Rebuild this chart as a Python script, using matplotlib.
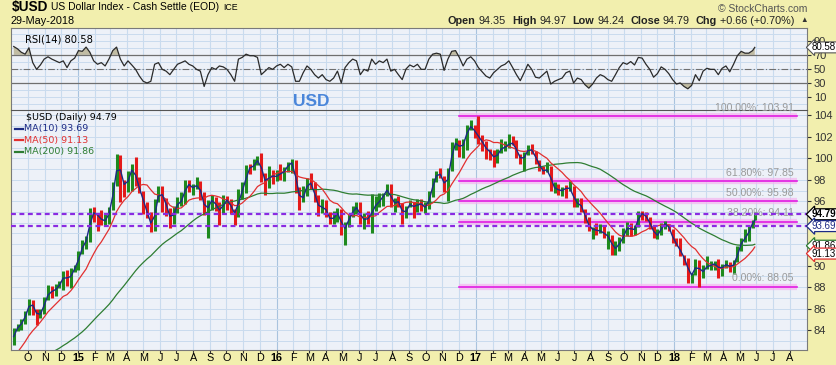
import pandas as pd
import matplotlib
matplotlib.use('Agg')
import matplotlib.pyplot as plt
from matplotlib.ticker import MultipleLocator

plt.rcParams['font.family'] = ['Liberation Sans', 'DejaVu Sans']

# weekly closes used only to warm up the moving averages (Feb-Aug 2014)
pre_closes = [80.7, 80.1, 80.2, 79.7, 79.7, 79.4, 80.2, 80.2, 80.4, 79.4,
              79.9, 79.8, 79.5, 79.9, 80.0, 80.4, 80.4, 80.6, 80.6, 80.4,
              80.1, 80.3, 80.1, 80.6, 81.0, 81.4, 81.4, 81.5, 82.3, 82.76]

# weekly bars, 5-Sep-2014 .. 25-May-2018, plus 29-May-2018
closes = [
    # 2014
    84.05, 84.35, 84.80, 85.63, 86.77, 85.90, 85.24, 85.72, 86.91, 87.63, 87.56, 88.00,
    88.35, 89.33, 88.41, 89.59, 89.83,
    # 2015
    91.23, 92.03, 92.56, 95.06, 94.80, 94.63, 94.04, 94.32, 95.31, 97.66, 99.99, 97.88,
    97.26, 98.47, 99.33, 97.54, 96.94, 95.31, 94.76, 93.18, 96.07, 96.91, 96.31, 95.18,
    94.04, 95.41, 95.98, 96.01, 97.93, 97.21, 97.34, 97.57, 96.53, 94.90, 95.91, 96.22,
    95.32, 95.05, 96.13, 96.11, 95.09, 94.66, 96.95, 96.95, 99.24, 98.99, 99.58, 99.98,
    98.32, 97.56, 98.72, 97.99,
    # 2016
    98.63, 98.47, 99.01, 99.56, 99.61, 97.06, 96.04, 96.63, 98.09, 97.30, 96.18, 95.08,
    95.81, 94.64, 94.19, 94.64, 95.14, 93.04, 93.90, 94.64, 95.31, 95.53, 94.05, 94.55,
    94.22, 95.55, 95.64, 96.29, 96.60, 97.46, 95.53, 96.19, 95.72, 94.51, 95.55, 95.85,
    95.19, 96.08, 95.44, 95.44, 96.58, 98.06, 98.69, 98.35, 97.07, 98.98, 101.27, 101.53,
    100.73, 101.70, 102.95, 102.96, 102.21,
    # 2017
    101.95, 101.17, 100.74, 100.52, 99.76, 100.80, 100.94, 101.12, 101.50, 101.32, 100.34,
    99.75, 100.35, 101.07, 100.51, 99.80, 99.05, 98.61, 99.25, 97.13, 97.42, 96.73, 97.25,
    97.16, 97.27, 95.63, 96.02, 95.15, 94.29, 93.26, 93.53, 93.08, 93.40, 92.67, 92.85,
    91.33, 91.87, 92.18, 93.08, 93.82, 93.06, 93.69, 94.91, 94.82, 94.38, 93.66, 92.78,
    92.89, 93.90, 93.91, 93.31, 92.12,
    # 2018
    91.96, 90.95, 90.57, 89.06, 89.19, 90.40, 89.07, 89.84, 89.95, 90.11, 90.22, 89.50,
    90.10, 90.10, 89.79, 90.32, 91.55, 92.54, 92.55, 93.64, 94.25, 94.79]

lows = [
    82.6, 83.9, 84.0, 84.6, 85.4, 85.4, 84.5, 85.1, 85.5, 86.8, 87.0, 87.2, 87.9, 87.7,
    88.1, 87.9, 89.4,
    89.6, 91.1, 91.6, 92.2, 94.1, 93.2, 93.8, 93.8, 93.9, 95.2, 97.4, 95.9, 96.4, 96.9,
    97.0, 97.4, 96.8, 94.8, 94.4, 93.1, 93.2, 95.9, 95.0, 94.6, 93.5, 93.9, 94.9, 95.6,
    95.7, 96.9, 96.6, 97.1, 96.1, 94.7, 92.6, 95.2, 95.1, 93.8, 94.8, 95.2, 94.8, 93.8,
    94.5, 96.2, 96.8, 98.5, 98.9, 99.4, 97.8, 96.6, 97.2, 97.6,
    97.9, 98.0, 97.9, 98.7, 98.6, 96.8, 95.2, 95.9, 96.5, 97.1, 95.9, 94.6, 94.9, 94.5,
    93.9, 93.9, 94.1, 92.9, 91.9, 93.6, 94.5, 94.8, 93.9, 93.4, 93.9, 93.0, 95.1, 95.5,
    95.6, 96.5, 95.5, 95.0, 95.5, 93.9, 94.4, 95.5, 94.4, 95.0, 95.1, 94.9, 95.3, 96.4,
    97.8, 98.2, 96.9, 96.0, 98.8, 100.8, 100.1, 100.0, 100.8, 102.6, 101.9,
    101.3, 100.7, 99.9, 99.8, 99.2, 99.6, 100.5, 100.7, 101.0, 101.2, 100.0, 99.5, 98.8,
    100.3, 100.4, 99.5, 98.8, 98.5, 98.7, 97.0, 96.8, 96.6, 96.5, 96.3, 97.0, 95.5, 95.5,
    95.0, 94.0, 93.2, 92.5, 92.9, 93.0, 92.6, 91.6, 91.0, 91.0, 91.4, 92.1, 92.8, 92.8,
    92.9, 93.6, 94.3, 94.2, 93.4, 92.6, 92.5, 92.9, 93.4, 93.2, 92.1,
    91.8, 90.9, 90.1, 88.4, 88.4, 89.1, 88.05, 88.9, 89.7, 89.6, 89.6, 88.9, 89.0, 89.8,
    89.4, 89.2, 90.3, 91.4, 92.2, 92.3, 93.5, 94.24]

highs = [
    84.2, 84.6, 85.0, 85.8, 86.9, 86.8, 86.0, 86.0, 87.1, 88.2, 88.1, 88.3, 88.6, 89.5,
    89.6, 89.8, 90.1,
    91.4, 92.4, 92.8, 95.4, 95.5, 94.9, 95.2, 94.8, 95.5, 97.8, 100.4, 100.3, 98.0, 98.8,
    99.5, 100.1, 98.3, 97.0, 95.9, 95.0, 96.2, 97.4, 97.4, 96.3, 95.4, 95.6, 96.4, 96.9,
    98.0, 98.0, 97.6, 98.3, 97.9, 96.9, 96.1, 96.6, 96.4, 95.9, 96.6, 96.5, 96.2, 95.3,
    97.1, 97.8, 99.4, 99.5, 99.9, 100.2, 100.5, 98.6, 99.3, 98.9,
    98.9, 99.5, 99.2, 99.7, 99.9, 99.8, 97.3, 97.4, 98.2, 98.6, 97.8, 96.6, 96.2, 96.1,
    95.0, 95.1, 95.4, 95.3, 94.1, 94.8, 95.6, 95.9, 95.9, 94.9, 95.1, 96.7, 96.5, 96.8,
    96.8, 97.6, 97.6, 96.3, 96.5, 95.8, 95.6, 96.1, 95.9, 96.2, 96.2, 95.9, 97.0, 98.2,
    98.8, 99.1, 98.4, 99.1, 101.5, 101.9, 101.7, 101.8, 103.1, 103.6, 103.1,
    103.91, 102.2, 101.6, 100.9, 100.8, 100.9, 101.8, 101.6, 102.3, 102.1, 101.7, 100.4,
    100.6, 101.2, 101.3, 100.7, 99.8, 99.3, 99.7, 99.3, 97.8, 97.6, 97.3, 97.5, 97.9,
    97.4, 96.3, 96.3, 95.3, 94.5, 93.6, 94.0, 93.9, 93.7, 93.2, 92.9, 92.3, 92.7, 93.5,
    94.1, 94.0, 93.8, 95.1, 95.1, 95.0, 94.5, 93.7, 93.4, 94.0, 94.2, 93.9, 93.4,
    92.6, 92.6, 91.0, 90.7, 89.3, 90.6, 90.5, 90.1, 90.9, 90.4, 90.4, 90.6, 90.2, 90.5,
    90.3, 90.5, 91.8, 92.6, 93.4, 93.7, 94.3, 94.97]

rsi = [81.8, 78.5, 73.6, 71, 80, 59, 49.5, 55.7, 64, 67.3,
       64, 61.5, 59, 61.5, 52, 61.5, 65.4, 76, 75, 81,
       73.6, 61.5, 56.7, 59, 54.3, 64, 76, 81, 64, 54.3,
       61.5, 55.7, 49.5, 40, 32.6, 30.2, 32.6, 56.7, 59, 49.5,
       47, 42, 49.5, 56.7, 59, 61.5, 56.7, 54.3, 49.5, 47,
       25.3, 42, 52, 49.5, 54.3, 53, 49.5, 42, 32.6, 64,
       66.4, 71, 68.8, 68.8, 66.4, 42, 47, 52, 49.5, 54.3,
       56.7, 52, 56.7, 53, 32.6, 32.6, 44.7, 54.3, 49.5, 42,
       37.2, 42, 35, 32.6, 37.2, 47, 30.2, 52, 59, 64,
       61.5, 42, 49.5, 47, 64, 56.7, 61.5, 59, 64, 47,
       49.5, 42, 35, 50, 55.7, 53, 56.7, 49.5, 49.5, 64,
       71, 72.4, 71, 48, 64, 75, 76, 66.4, 54.3, 64,
       67.3, 61.5, 52, 46, 40, 37.2, 44.7, 49.5, 54.3, 56.7,
       61.5, 52, 42, 33.5, 44.7, 56.7, 49.5, 38.4, 37.2, 42,
       47, 28.7, 32.6, 35, 37.2, 44.7, 47, 30.2, 37.2, 35,
       27.7, 22.9, 28.7, 37.2, 42, 39.6, 35, 32.6, 42, 52,
       59, 56.7, 60.5, 55.7, 66.4, 65.4, 56.7, 49.5, 38.4, 43.4,
       53, 49.5, 43.4, 35, 28.7, 30.2, 25.3, 22, 26.8, 42,
       33.5, 47, 51, 49.5, 49.5, 42, 51, 54.3, 46, 56.7,
       68.8, 75, 72.4, 72.4, 76, 80.58]

fib_names = ['100.00%', '61.80%', '50.00%', '38.20%', '0.00%']
fib_levels = [103.91, 97.85, 95.98, 94.11, 88.05]
fib_span = ['2016-12-01', '2018-08-14']
hlines = [94.79, 93.69]
last_vals = {'close': 94.79, 'ma10': 93.69, 'ma50': 91.13, 'ma200': 91.86, 'rsi': 80.58}

dates = list(pd.date_range('2014-09-05', '2018-05-25', freq='W-FRI')) + [pd.Timestamp('2018-05-29')]
pre_dates = list(pd.date_range('2014-02-07', '2014-08-29', freq='W-FRI'))

all_close = pd.Series(pre_closes + closes, index=pd.DatetimeIndex(pre_dates + dates))
ma10 = all_close.rolling('14D').mean()[dates[0]:]
ma50 = all_close.rolling('70D').mean()[dates[0]:]
ma200 = all_close.rolling('280D').mean()[dates[0]:]
opens = [pre_closes[-1]] + closes[:-1]
bar_colors = ['#1E8A1E' if c >= o else '#E41A1A' for o, c in zip(opens, closes)]

BG = '#F2EFAE'
PANEL = '#EDF1F8'
GRID = '#C9DBEE'
W, H = 837, 365


def fx(px):
    return px / W


def fy(py):
    return 1 - py / H


fig = plt.figure(figsize=(W / 100, H / 100), dpi=100, facecolor=BG)
renderer = fig.canvas.get_renderer()


def text_run(x_px, y_px, parts):
    # parts: (text, fontsize, weight, color, gap after)
    for s, size, weight, color, gap in parts:
        t = fig.text(fx(x_px), fy(y_px), s, fontsize=size, fontweight=weight, color=color,
                     va='center', ha='left')
        x_px += t.get_window_extent(renderer).width + gap


ax_r = fig.add_axes([fx(11), fy(110), fx(807) - fx(11), fy(28) - fy(110)], facecolor=PANEL)
ax = fig.add_axes([fx(11), fy(350), fx(807) - fx(11), fy(110) - fy(350)], facecolor=PANEL)

xmin, xmax = pd.Timestamp('2014-08-31'), pd.Timestamp('2018-09-02')
months = pd.date_range('2014-10-01', '2018-08-01', freq='MS')
month_labels = [str(d.year % 100) if d.month == 1 else 'JFMAMJJASOND'[d.month - 1] for d in months]

for a in (ax, ax_r):
    a.set_xlim(xmin, xmax)
    a.set_xticks(months)
    for d in months:
        a.axvline(d, color='#A9C3DE' if d.month == 1 else GRID, lw=0.8, zorder=0)
    a.yaxis.set_minor_locator(MultipleLocator(1 if a is ax else 10))
    a.grid(axis='y', which='both', color=GRID, lw=0.7, zorder=0)
    a.set_axisbelow(True)
    a.yaxis.tick_right()
    a.tick_params(axis='y', which='major', direction='out', length=3, pad=2,
                  labelsize=8, colors='#333333')
    a.tick_params(axis='y', which='minor', length=0)
    for s in a.spines.values():
        s.set_color('#7a7a7a')
        s.set_linewidth(0.8)
ax_r.spines['bottom'].set_visible(False)
ax.spines['top'].set_color('#555555')

ax_r.tick_params(axis='x', length=0, labelbottom=False)
ax.set_xticklabels(month_labels)
ax.tick_params(axis='x', direction='out', length=2, pad=0.5, labelsize=7.8, colors='#333333')
for lab, d in zip(ax.get_xticklabels(), months):
    lab.set_color('black')
    if d.month == 1:
        lab.set_fontweight('bold')

# ---- RSI panel
ax_r.set_ylim(-8, 108)
ax_r.set_yticks([10, 30, 50, 70, 90])
ax_r.axhline(70, color='#6f6f6f', lw=0.9)
ax_r.axhline(30, color='#6f6f6f', lw=0.9)
ax_r.axhline(50, color='#6f6f6f', lw=0.8, ls=(0, (6, 2, 1, 2)))
ax_r.fill_between(dates, rsi, 70, where=[v > 70 for v in rsi], interpolate=True,
                  color='#B7AF8E', alpha=0.8, lw=0)
ax_r.fill_between(dates, rsi, 30, where=[v < 30 for v in rsi], interpolate=True,
                  color='#B7AF8E', alpha=0.8, lw=0)
ax_r.plot(dates, rsi, color='#2a2a2a', lw=0.9)
ax_r.text(0.017, 0.86, 'RSI(14) 80.58', transform=ax_r.transAxes, fontsize=7.2,
          family='DejaVu Sans', va='center')

box_font = 7.0
ax_r.annotate(f"{last_vals['rsi']:.2f}", xy=(1, last_vals['rsi']), xycoords=('axes fraction', 'data'),
              xytext=(3.6, 0), textcoords='offset points', va='center', ha='left', fontsize=box_font,
              bbox=dict(boxstyle='larrow,pad=0.05', fc='white', ec='#555555', lw=0.8),
              annotation_clip=False, zorder=10)
fig.text(fx(311), fy(102), 'USD', color='#4A86DA', fontsize=12.5, fontweight='bold',
         ha='center', va='center')

# ---- price panel
ax.set_ylim(82.15, 104.5)
ax.set_yticks([84, 86, 88, 90, 96, 98, 100, 102, 104])
ax.vlines(dates, lows, highs, colors=bar_colors, lw=2.2, zorder=3)
ax.plot(ma200.index, ma200.values, color='#2E7D32', lw=0.9, zorder=4)
ax.plot(ma50.index, ma50.values, color='#E23030', lw=0.9, zorder=4)
ax.plot(ma10.index, ma10.values, color='#1C2A85', lw=1.0, zorder=4)

f0, f1 = pd.Timestamp(fib_span[0]), pd.Timestamp(fib_span[1])
for name, lvl in zip(fib_names, fib_levels):
    ax.plot([f0, f1], [lvl, lvl], color='#F5B5F0', lw=4.5, alpha=0.7, zorder=2, solid_capstyle='butt')
    ax.plot([f0, f1], [lvl, lvl], color='#E21CE2', lw=1.2, zorder=2.5)
    ax.annotate(f'{name}: {lvl:.2f}', xy=(f1, lvl), xytext=(-2, 2.5), textcoords='offset points',
                ha='right', va='bottom', fontsize=7.6, color='#9a9a9a', zorder=5)

for lvl in hlines:
    ax.axhline(lvl, color='#8A2BE2', lw=1.6, ls=(0, (2.2, 1.6)), zorder=5)

label_boxes = [(last_vals['close'], 'black', 'black', 'bold'),
               (last_vals['ma10'], '#1C2A85', '#1C2A85', 'normal'),
               (last_vals['ma200'], '#2E7D32', 'black', 'normal'),
               (last_vals['ma50'], '#E23030', 'black', 'normal')]
for val, edge, tcol, wt in label_boxes:
    ax.annotate(f'{val:.2f}', xy=(1, val), xycoords=('axes fraction', 'data'), xytext=(3.6, 0),
                textcoords='offset points', va='center', ha='left', fontsize=box_font, fontweight=wt,
                color=tcol,
                bbox=dict(boxstyle='larrow,pad=0.05', fc='white', ec=edge, lw=0.9),
                annotation_clip=False, zorder=10)

legend_rows = [('$USD (Daily) 94.79', 'black', None),
               ('MA(10) 93.69', '#1C2A85', '#1C2A85'),
               ('MA(50) 91.13', '#E23030', '#E23030'),
               ('MA(200) 91.86', '#2E7D32', '#2E7D32')]
for k, (txt, col, dash) in enumerate(legend_rows):
    ypx = 117.5 + k * 11.4
    fig.text(fx(26 if dash is None else 24), fy(ypx), txt, color=col, fontsize=6.8,
             family='DejaVu Sans', va='center')
    if dash:
        fig.add_artist(plt.Line2D([fx(15), fx(23)], [fy(ypx), fy(ypx)], color=dash, lw=1.6))

# ---- header
text_run(12, 7, [('$USD', 9.8, 'bold', 'black', 3),
                 ('US Dollar Index - Cash Settle (EOD)', 7.5, 'normal', 'black', 4),
                 ('ICE', 6.3, 'normal', 'black', 0)])
fig.text(fx(11), fy(21.5), '29-May-2018', fontsize=7.8, va='center')
fig.text(fx(807), fy(8.5), '\u00a9 StockCharts.com', fontsize=7.5, color='#555555',
         ha='right', va='center')

hdr = []
for lab, val in [('Open', '94.35'), ('High', '94.97'), ('Low', '94.24'), ('Close', '94.79'),
                 ('Chg', '+0.66 (+0.70%)')]:
    hdr.append((lab, 7.8, 'bold', '#222222', 3))
    hdr.append((val, 7.8, 'normal', '#222222', 6))
hdr.append(('\u25b2', 5.5, 'normal', '#333333', 0))
text_run(448, 21, hdr)

fig.savefig('out.png', dpi=100, facecolor=BG)
